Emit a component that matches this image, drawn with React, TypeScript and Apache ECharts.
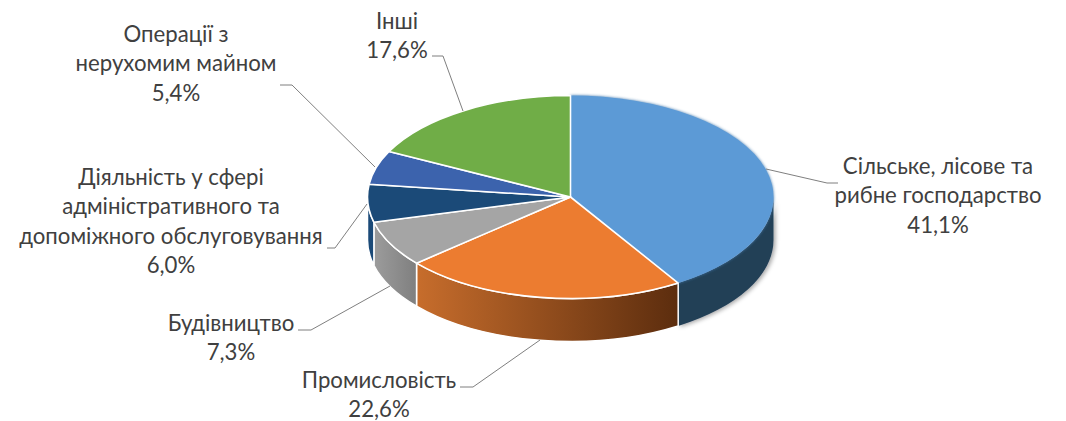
import React, { useEffect, useRef } from "react";
import * as echarts from "echarts";

const categories = [
  "Сільське, лісове та\nрибне господарство",
  "Промисловість",
  "Будівництво",
  "Діяльність у сфері\nадміністративного та\nдопоміжного обслуговування",
  "Операції з\nнерухомим майном",
  "Інші",
];
const shares = [41.1, 22.6, 7.3, 6.0, 5.4, 17.6];

const topColors = ["#5B9AD6", "#EC7C30", "#A5A5A5", "#1B4A78", "#3C63AD", "#70AD47"];
const sideStops = [
  ["#243F57", "#243F57"],
  ["#C76D2C", "#5C2D0E"],
  ["#9C9C9C", "#7F7F7F"],
  ["#1B4A78", "#1B4A78"],
  ["#3C63AD", "#3C63AD"],
  ["#70AD47", "#70AD47"],
];

// layout of the pie
const CX = 570.5;
const CY = 197;
const RX = 203;
const RY = 101.5;
const DEPTH = 43;

// label layout: centre x and first line's centre y
const labelAnchors = [
  [938, 165],
  [379, 379],
  [231, 322],
  [171, 176],
  [176, 33],
  [397, 20],
];
const LINE_PITCH = 29.6;

const leaderLines = [
  [[766, 169], [827, 183], [838, 183]],
  [[540, 340], [473, 387], [460, 387]],
  [[390, 286], [311, 330], [298, 330]],
  [[367, 204], [335, 248], [327, 248]],
  [[375, 167], [292, 85], [280, 85]],
  [[463, 111], [443, 56], [432, 56]],
];

const total = shares.reduce((a, b) => a + b, 0);
const startOf = (i: number) =>
  (shares.slice(0, i).reduce((a, b) => a + b, 0) / total) * Math.PI * 2;

const pt = (a: number, dy = 0) => [CX + RX * Math.sin(a), CY - RY * Math.cos(a) + dy];

const arcTo = (from: number, to: number, dy = 0) => {
  const [x, y] = pt(to, dy);
  const large = Math.abs(to - from) > Math.PI ? 1 : 0;
  const sweep = to > from ? 1 : 0;
  return `A ${RX} ${RY} 0 ${large} ${sweep} ${x} ${y}`;
};

const renderSide = (params: any, api: any) => {
  const i = params.dataIndex;
  const v = api.value(0);
  const a0 = Math.max(startOf(i), Math.PI / 2);
  const a1 = Math.min(startOf(i) + (v / total) * Math.PI * 2, (Math.PI * 3) / 2);
  if (a1 <= a0) return null;
  const [sx, sy] = pt(a0);
  const [ex, ey] = pt(a1, DEPTH);
  const d = `M ${sx} ${sy} ${arcTo(a0, a1)} L ${ex} ${ey} ${arcTo(a1, a0, DEPTH)} Z`;
  const isFirst = i === 0;
  return {
    type: "path",
    shape: { pathData: d },
    style: {
      fill: new echarts.graphic.LinearGradient(0, 0, 1, 0, [
        { offset: 0, color: sideStops[i][0] },
        { offset: 1, color: sideStops[i][1] },
      ]),
      stroke: isFirst ? "none" : "#fff",
      lineWidth: isFirst ? 0 : 1.5,
      ...(isFirst
        ? { shadowColor: "rgba(0,0,0,0.35)", shadowBlur: 4, shadowOffsetX: 2, shadowOffsetY: 1 }
        : {}),
    },
  };
};

const renderTop = (params: any, api: any) => {
  const i = params.dataIndex;
  const v = api.value(0);
  const a0 = startOf(i);
  const a1 = a0 + (v / total) * Math.PI * 2;
  const [sx, sy] = pt(a0);
  const d = `M ${CX} ${CY} L ${sx} ${sy} ${arcTo(a0, a1)} Z`;
  const isFirst = i === 0;
  return {
    type: "path",
    shape: { pathData: d },
    style: {
      fill: topColors[i],
      stroke: isFirst ? "none" : "#fff",
      lineWidth: isFirst ? 0 : 1.6,
      lineJoin: "round",
      ...(isFirst ? { shadowColor: "#3f77ab", shadowBlur: 3 } : {}),
    },
  };
};

const renderLabel = (params: any, api: any) => {
  const i = params.dataIndex;
  const v = api.value(0);
  const lines = [...categories[i].split("\n"), v.toFixed(1).replace(".", ",") + "%"];
  const [x, y] = labelAnchors[i];
  return {
    type: "group",
    children: [
      {
        type: "polyline",
        shape: { points: leaderLines[i] },
        style: { stroke: "#7F7F7F", lineWidth: 1, fill: "none" },
      },
      ...lines.map((t, k) => ({
        type: "text",
        style: {
          text: t,
          x,
          y: y + k * LINE_PITCH,
          align: "center",
          verticalAlign: "middle",
          fill: "#404040",
          fontSize: 22.2,
          fontFamily: "Lato, 'Open Sans', sans-serif",
        },
      })),
    ],
  };
};

export default function App() {
  const ref = useRef<HTMLDivElement>(null);
  useEffect(() => {
    const chart = echarts.init(ref.current!, undefined, { renderer: "svg" });
    const base = { type: "custom", coordinateSystem: "none", data: shares, silent: true };
    chart.setOption({
      animation: false,
      backgroundColor: "#fff",
      series: [
        { ...base, name: "side", renderItem: renderSide, z: 1 },
        { ...base, name: "top", renderItem: renderTop, z: 2 },
        { ...base, name: "label", renderItem: renderLabel, z: 3 },
      ],
    });
    return () => chart.dispose();
  }, []);
  return (
    <div
      ref={ref}
      style={{ position: "fixed", left: 0, top: 0, width: 1066, height: 421 }}
    />
  );
}
